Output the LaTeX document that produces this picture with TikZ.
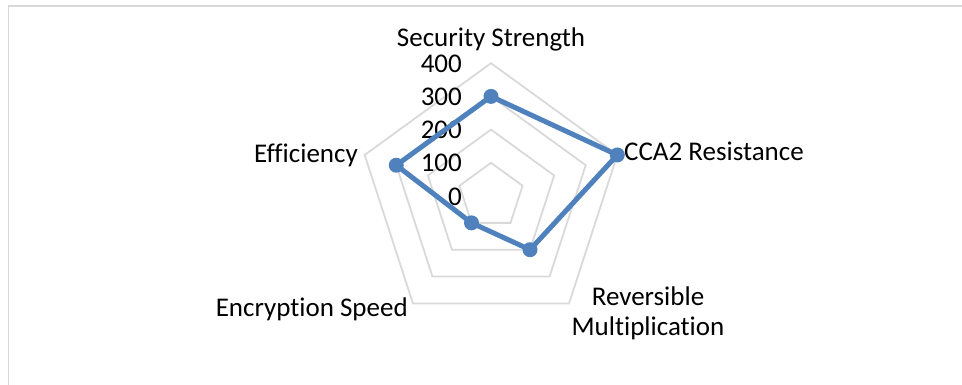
\documentclass[tikz,border=0pt]{standalone}
\usepackage{fontspec}
\setmainfont{Carlito}[Ligatures={NoCommon}]
\usetikzlibrary{calc}
\begin{document}
\begin{tikzpicture}[x=1pt,y=-1pt,
  ring/.style={draw=gridgray,line width=1.8pt,line join=miter},
  series/.style={draw=seriesblue,line width=5pt,line join=round},
  marker/.style={circle,fill=seriesblue,inner sep=0pt,minimum size=15pt},
  lbl/.style={font=\fontsize{27}{30}\selectfont,text=black,inner sep=0pt},
  tick/.style={lbl,anchor=base east}]
\definecolor{gridgray}{HTML}{D9D9D9}
\definecolor{seriesblue}{HTML}{4F81BD}
\useasboundingbox (0,0) rectangle (962,385);
% chart frame
\draw[gridgray,line width=1.8pt] (8.5,400) -- (8.5,6) -- (980,6);
% radar geometry: centre and step per 100 units
\coordinate (c) at (491,196);
\def\rs{33.2}
% grid rings 100..400
\foreach \k in {1,...,4}{
  \draw[ring] ($(c)+(-90:\k*\rs)$) -- ($(c)+(-18:\k*\rs)$)
     -- ($(c)+(54:\k*\rs)$) -- ($(c)+(126:\k*\rs)$)
     -- ($(c)+(198:\k*\rs)$) -- cycle;
}
% value axis labels
\foreach \k/\v in {0/0,1/100,2/200,3/300,4/400}{
  \node[tick] (v\v) at (462,{196-\k*\rs+9}) {\v};
}
% data points: 300, 400, 200, 100, 300
\coordinate (p1) at ($(c)+(-90:3*\rs)$);
\coordinate (p2) at ($(c)+(-18:4*\rs)$);
\coordinate (p3) at ($(c)+(54:2*\rs)$);
\coordinate (p4) at ($(c)+(126:1*\rs)$);
\coordinate (p5) at ($(c)+(198:3*\rs)$);
\draw[series] (p1) -- (p2) -- (p3) -- (p4) -- (p5) -- cycle;
\foreach \i in {1,...,5}{ \node[marker] (m\i) at (p\i) {}; }
% category labels
\node[lbl,anchor=base] (cSec) at (491,47) {Security Strength};
\node[lbl,anchor=base west] (cCca) at (624,161) {CCA2 Resistance};
\node[lbl,anchor=base,align=center] (cRev) at (648,335) {Reversible\\Multiplication};
\node[lbl,anchor=base east] (cEnc) at (408,316) {Encryption Speed};
\node[lbl,anchor=base east] (cEff) at (358,163) {Efficiency};
\end{tikzpicture}
\end{document}
